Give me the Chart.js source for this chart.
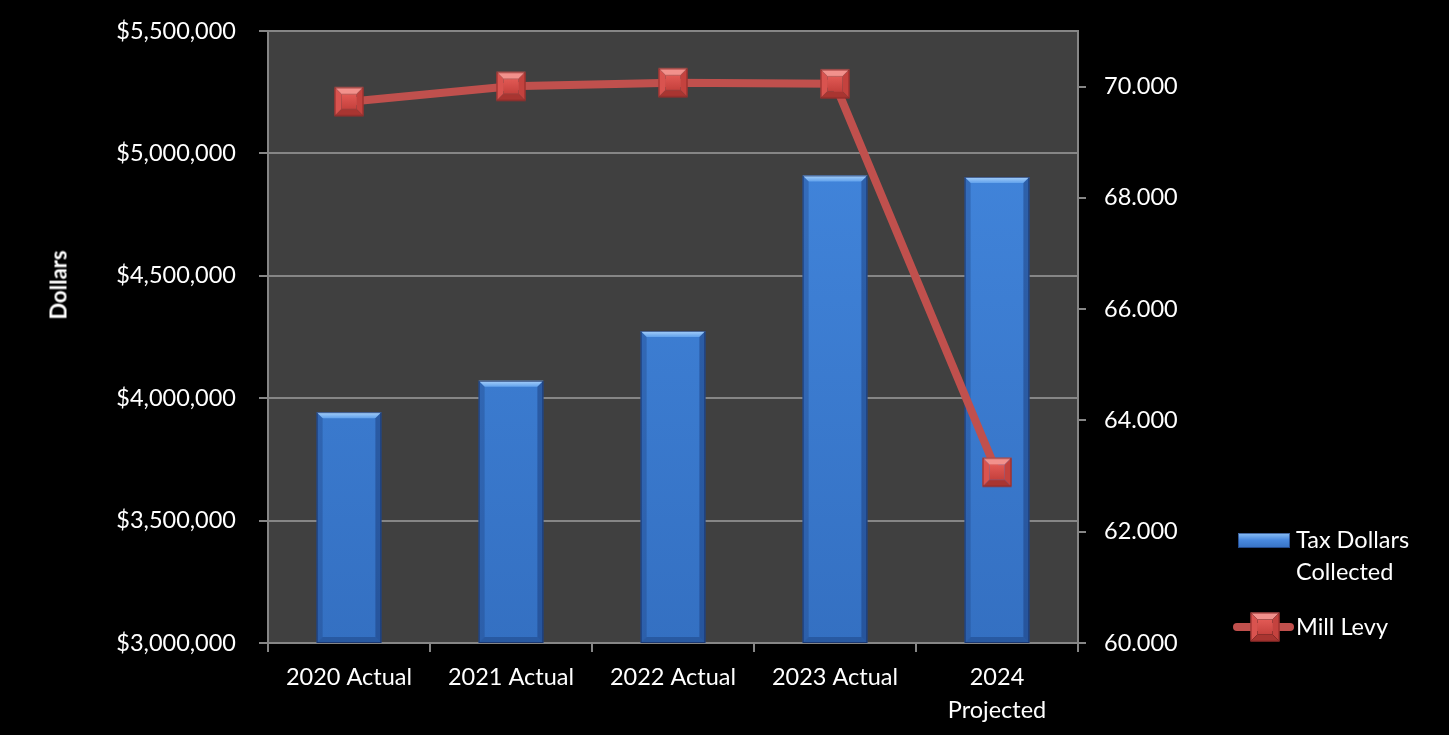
<!DOCTYPE html>
<html>
<head>
<meta charset="utf-8">
<script src="https://cdn.jsdelivr.net/npm/chart.js@4.4.1/dist/chart.umd.min.js"></script>
<style>
  html, body { margin: 0; padding: 0; background: #000; }
  #wrap { position: relative; width: 1449px; height: 735px; }
  #axisTitle {
    position: absolute; left: 58px; top: 285px;
    transform: translate(-50%, -50%) rotate(-90deg);
    color: #fff; font: bold 22px Lato, sans-serif; white-space: nowrap;
  }
  .leg { position: absolute; color: #fff; font: 23.5px Lato, sans-serif; line-height: 32px; }
  .barSw {
    position: absolute; left: 1238px; top: 533px; width: 52px; height: 15px;
    background: linear-gradient(#8cc0f6, #4a8ae0 45%, #3671c2);
    box-shadow: inset 0 0 0 1px rgba(20,45,100,0.6);
  }
  .lineSw { position: absolute; left: 1233px; top: 623px; width: 61px; height: 8px; background: #c0504d; border-radius: 4px; }
</style>
</head>
<body>
<div id="wrap">
  <canvas id="c" width="1449" height="735"></canvas>
  <div id="axisTitle">Dollars</div>
  <div class="barSw"></div>
  <div class="leg" style="left:1296px; top:523px;">Tax Dollars<br>Collected</div>
  <div class="lineSw"></div>
  <canvas id="legMark" width="32" height="32" style="position:absolute; left:1249px; top:611px;"></canvas>
  <div class="leg" style="left:1296px; top:610px;">Mill Levy</div>
</div>
<script>
/***********************
 * DATA
 ***********************/
const categories = ["2020 Actual", "2021 Actual", "2022 Actual", "2023 Actual", ["2024", "Projected"]];
const taxDollars = [3943000, 4071000, 4275000, 4910000, 4904000];
const millLevy = [69.73, 70.005, 70.07, 70.05, 63.07];
const dollarTicks = [3000000, 3500000, 4000000, 4500000, 5000000, 5500000];
const levyTicks = [60, 62, 64, 66, 68, 70];

const GRID = "#868686";
const FONT = "Lato, sans-serif";

/***********************
 * MARKER IMAGE (beveled square)
 ***********************/
function makeMarker(cv) {
  const s = 29, b = 7;
  const c = cv.getContext("2d");
  const o = (cv.width - s) / 2;
  c.save();
  c.translate(o, o);
  const poly = (pts, fill) => {
    c.beginPath();
    c.moveTo(pts[0][0], pts[0][1]);
    pts.slice(1).forEach(p => c.lineTo(p[0], p[1]));
    c.closePath();
    c.fillStyle = fill;
    c.fill();
  };
  poly([[0,0],[s,0],[s-b,b],[b,b]], "#f2918c");
  poly([[0,0],[b,b],[b,s-b],[0,s]], "#d9534f");
  poly([[s,0],[s,s],[s-b,s-b],[s-b,b]], "#c4423e");
  poly([[0,s],[b,s-b],[s-b,s-b],[s,s]], "#a93531");
  const g = c.createLinearGradient(0, b, 0, s - b);
  g.addColorStop(0, "#e25a55");
  g.addColorStop(1, "#c5413d");
  c.fillStyle = g;
  c.fillRect(b, b, s - 2*b, s - 2*b);
  c.strokeStyle = "#8e2b28";
  c.lineWidth = 1;
  c.strokeRect(0.5, 0.5, s - 1, s - 1);
  c.restore();
  return cv;
}
const markerImg = makeMarker(Object.assign(document.createElement("canvas"), { width: 32, height: 32 }));
makeMarker(document.getElementById("legMark"));

/***********************
 * PLUGINS
 ***********************/
const plotBg = {
  id: "plotBg",
  beforeDraw(chart) {
    const { ctx, chartArea: a } = chart;
    ctx.save();
    ctx.fillStyle = "#404040";
    ctx.fillRect(a.left, a.top, a.right - a.left, a.bottom - a.top);
    ctx.restore();
  }
};

const barBevel = {
  id: "barBevel",
  afterDatasetDraw(chart, args) {
    if (args.index !== 0) return;
    const ctx = chart.ctx;
    const b = 6;
    args.meta.data.forEach(bar => {
      const l = bar.x - bar.width / 2, r = bar.x + bar.width / 2;
      const t = bar.y, btm = Math.min(bar.base, chart.chartArea.bottom);
      const poly = (pts, fill) => {
        ctx.beginPath();
        ctx.moveTo(pts[0][0], pts[0][1]);
        pts.slice(1).forEach(p => ctx.lineTo(p[0], p[1]));
        ctx.closePath();
        ctx.fillStyle = fill;
        ctx.fill();
      };
      ctx.save();
      const tg = ctx.createLinearGradient(0, t, 0, t + b);
      tg.addColorStop(0, "#a9d1fa");
      tg.addColorStop(1, "#62a2ec");
      poly([[l,t],[r,t],[r-b,t+b],[l+b,t+b]], tg);
      poly([[l,t],[l+b,t+b],[l+b,btm-b],[l,btm]], "rgba(25,55,115,0.30)");
      poly([[r,t],[r,btm],[r-b,btm-b],[r-b,t+b]], "rgba(20,45,100,0.40)");
      poly([[l,btm],[l+b,btm-b],[r-b,btm-b],[r,btm]], "rgba(20,45,100,0.35)");
      ctx.strokeStyle = "rgba(20,40,90,0.7)";
      ctx.lineWidth = 1;
      ctx.strokeRect(l + 0.5, t + 0.5, r - l - 1, btm - t - 1);
      ctx.restore();
    });
  }
};

// keep the vertical axes from pushing the plot area down
const trimPad = (s) => { s.paddingTop = 12; s.paddingBottom = 12; };

/***********************
 * CHART
 ***********************/
new Chart(document.getElementById("c"), {
  data: {
    labels: categories,
    datasets: [
      {
        type: "bar",
        label: "Tax Dollars Collected",
        data: taxDollars,
        yAxisID: "y",
        order: 2,
        barPercentage: 0.4,
        categoryPercentage: 1,
        backgroundColor: (ctx) => {
          const a = ctx.chart.chartArea;
          if (!a) return "#3f7fd5";
          const g = ctx.chart.ctx.createLinearGradient(0, a.top, 0, a.bottom);
          g.addColorStop(0, "#4489e0");
          g.addColorStop(1, "#3470c2");
          return g;
        }
      },
      {
        type: "line",
        label: "Mill Levy",
        data: millLevy,
        yAxisID: "y1",
        order: 1,
        borderColor: "#c0504d",
        borderWidth: 8,
        pointStyle: markerImg,
        pointRadius: 15,
        tension: 0
      }
    ]
  },
  options: {
    responsive: false,
    animation: false,
    events: [],
    layout: { padding: { left: 0, right: 251, top: 31, bottom: 0 } },
    plugins: { legend: { display: false }, tooltip: { enabled: false } },
    scales: {
      x: {
        offset: true,
        grid: { offset: true, drawOnChartArea: false, color: GRID, lineWidth: 2, tickLength: 9 },
        border: { color: GRID, width: 2 },
        ticks: { color: "#fff", font: { family: FONT, size: 23.5, lineHeight: 1.4 }, padding: 9, maxRotation: 0 },
        afterFit: (s) => { s.height = 92; }
      },
      y: {
        position: "left",
        min: 3000000,
        max: 5500000,
        afterBuildTicks: (s) => { s.ticks = dollarTicks.map(v => ({ value: v })); },
        grid: { color: GRID, lineWidth: 2, tickLength: 9 },
        border: { color: GRID, width: 2 },
        ticks: {
          color: "#fff",
          font: { family: FONT, size: 23.5 },
          padding: 23,
          callback: (v) => "$" + Number(v).toLocaleString("en-US")
        },
        afterFit: (s) => { s.width = 268; trimPad(s); }
      },
      y1: {
        position: "right",
        min: 60,
        max: 71,
        afterBuildTicks: (s) => { s.ticks = levyTicks.map(v => ({ value: v })); },
        grid: { drawOnChartArea: false, color: GRID, lineWidth: 2, tickLength: 8 },
        border: { color: GRID, width: 2 },
        ticks: {
          color: "#fff",
          font: { family: FONT, size: 23.5 },
          padding: 18,
          callback: (v) => Number(v).toFixed(3)
        },
        afterFit: (s) => { s.width = 120; trimPad(s); }
      }
    }
  },
  plugins: [plotBg, barBevel]
});
</script>
</body>
</html>
